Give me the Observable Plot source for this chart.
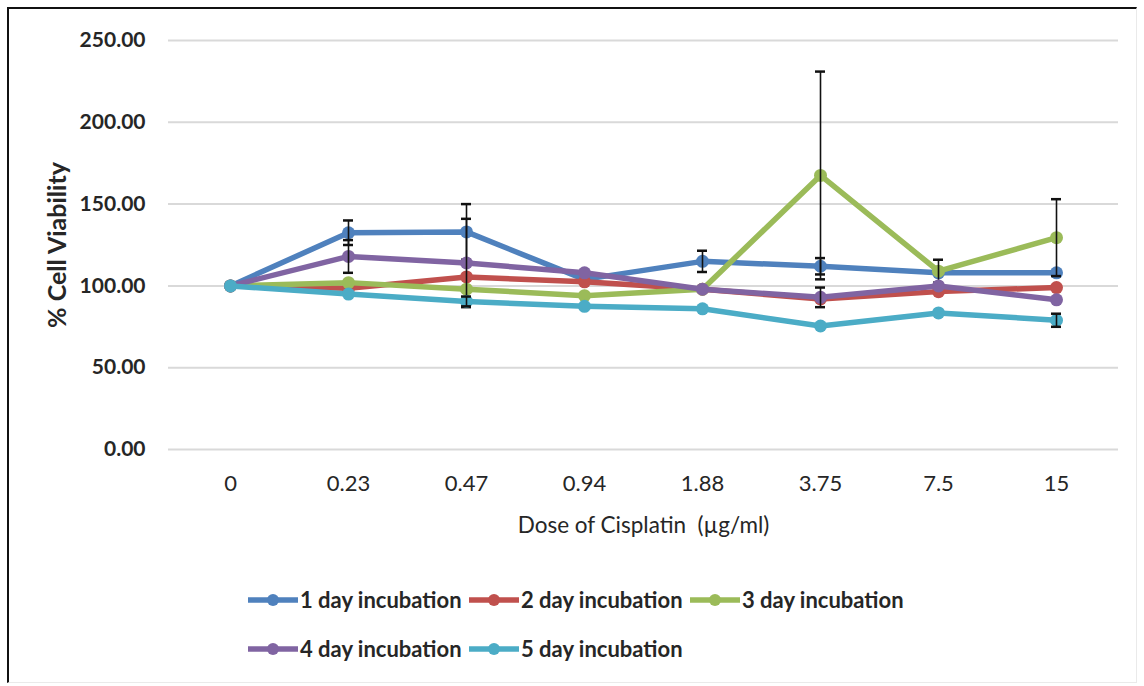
<!DOCTYPE html>
<html>
<head>
<meta charset="utf-8">
<script src="https://cdn.jsdelivr.net/npm/d3@7"></script>
<script src="https://cdn.jsdelivr.net/npm/@observablehq/plot@0.6"></script>
<style>
  html, body { margin: 0; padding: 0; background: #fff; }
  #page { position: relative; width: 1144px; height: 686px; overflow: hidden; background: #fff;
          font-family: Lato, "Open Sans", sans-serif; color: #262626; }
  #frame { position: absolute; left: 7px; top: 7px; width: 1130px; height: 676px; box-sizing: border-box;
           border-left: 2px solid #111; border-top: 2px solid #111;
           border-right: 1px solid #eaeaea; border-bottom: 1px solid #eaeaea; }
  #chart { position: absolute; left: 0; top: 0; }
  #chart g[aria-label="y-axis tick label"] { font-size: 21px; font-weight: bold; }
  #chart g[aria-label="x-axis tick label"] { font-size: 22px; }
  #legend { position: absolute; left: 248px; top: 588px; width: 680px; display: flex; flex-wrap: wrap;
            row-gap: 25px; }
  .item { display: flex; align-items: center; width: 221px; font-weight: 700; font-size: 22px; white-space: nowrap;
          line-height: 24px; }
  .item svg { display: block; margin-right: 2px; }
</style>
</head>
<body>
<div id="page">
  <div id="frame"></div>
  <div id="chart"></div>
  <div id="legend"></div>
</div>
<script>
// Cisplatin doses (µg/ml), shown as categorical ticks
const doses = ["0", "0.23", "0.47", "0.94", "1.88", "3.75", "7.5", "15"];

const seriesNames = ["1 day incubation", "2 day incubation", "3 day incubation", "4 day incubation", "5 day incubation"];
const seriesColors = ["#4f81bd", "#c0504d", "#9bbb59", "#8064a2", "#4bacc6"];

// % cell viability per dose
const day1 = [100, 132.5, 133, 104, 115, 112, 108, 108];
const day2 = [100, 98.5, 105.5, 102.5, 98, 92, 96.5, 99];
const day3 = [100, 102, 98, 94, 98, 167.5, 109, 129.5];
const day4 = [100, 118, 114, 108, 98, 93, 100, 91.5];
const day5 = [100, 95, 90.5, 87.5, 86, 75.5, 83.5, 79];

// error bar half-widths (± SD)
const err1 = [0, 7.5, 17, 0, 6.5, 5, 0, 0];
const err2 = [0, 0, 0, 0, 0, 0, 0, 0];
const err3 = [0, 0, 0, 0, 0, 63.5, 7, 23.5];
const err4 = [0, 10, 27, 0, 0, 6, 0, 0];
const err5 = [0, 0, 3, 0, 0, 0, 0, 4];

const yTicks = [0, 50, 100, 150, 200, 250];
const yTitle = "% Cell Viability";
const xTitle = "Dose of Cisplatin  (µg/ml)";

const allValues = [day1, day2, day3, day4, day5];
const allErrors = [err1, err2, err3, err4, err5];

const rows = [];
allValues.forEach((vals, s) => {
  vals.forEach((v, i) => rows.push({series: seriesNames[s], dose: doses[i], value: v, err: allErrors[s][i]}));
});

const font = "Lato, 'Open Sans', sans-serif";

// one line + markers + error bars per series, drawn in series order
const seriesMarks = seriesNames.flatMap((name) => {
  const d = rows.filter((r) => r.series === name);
  const e = d.filter((r) => r.err > 0);
  return [
    Plot.line(d, {x: "dose", y: "value", stroke: "series", strokeWidth: 5.5, strokeLinejoin: "round"}),
    Plot.dot(d, {x: "dose", y: "value", fill: "series", r: 6.5, stroke: null}),
    Plot.ruleX(e, {x: "dose", y1: (r) => r.value - r.err, y2: (r) => r.value + r.err, stroke: "#111", strokeWidth: 1.6}),
    Plot.tickY(e, {x: "dose", y: (r) => r.value + r.err, stroke: "#111", strokeWidth: 2.5, insetLeft: 54, insetRight: 54}),
    Plot.tickY(e, {x: "dose", y: (r) => r.value - r.err, stroke: "#111", strokeWidth: 2.5, insetLeft: 54, insetRight: 54})
  ];
});

const chart = Plot.plot({
  width: 1144,
  height: 545,
  marginLeft: 168,
  marginRight: 26,
  marginTop: 40,
  marginBottom: 96,
  style: {fontFamily: font, fontSize: "21px", background: "transparent", color: "#262626"},
  x: {type: "band", domain: doses, padding: 0},
  y: {domain: [0, 250]},
  color: {domain: seriesNames, range: seriesColors},
  marks: [
    Plot.ruleY(yTicks, {stroke: "#d9d9d9", strokeWidth: 2}),
    Plot.axisY({ticks: yTicks, tickFormat: (d) => d.toFixed(2), tickSize: 0, tickPadding: 23, label: null,
                fontSize: 21, fontWeight: "bold", fill: "#262626"}),
    Plot.axisX({tickSize: 0, tickPadding: 26, label: null, fontSize: 22, fill: "#262626"}),
    Plot.text([yTitle], {frameAnchor: "left", textAnchor: "middle", dx: -111, rotate: -90, fontSize: 25,
                         fontWeight: "bold", fill: "#262626"}),
    Plot.text([xTitle], {frameAnchor: "bottom", dy: 76, lineAnchor: "middle", fontSize: 22.5, fill: "#262626"}),
    ...seriesMarks
  ]
});
document.getElementById("chart").append(chart);

// legend: line with a circular marker, then the series name
const legend = d3.select("#legend");
seriesNames.forEach((name, i) => {
  const item = legend.append("div").attr("class", "item");
  const svg = item.append("svg").attr("width", 50).attr("height", 16);
  svg.append("line").attr("x1", 1).attr("x2", 49).attr("y1", 8).attr("y2", 8)
    .attr("stroke", seriesColors[i]).attr("stroke-width", 5.5).attr("stroke-linecap", "round");
  svg.append("circle").attr("cx", 25).attr("cy", 8).attr("r", 6).attr("fill", seriesColors[i]);
  item.append("span").text(name);
});
</script>
</body>
</html>
